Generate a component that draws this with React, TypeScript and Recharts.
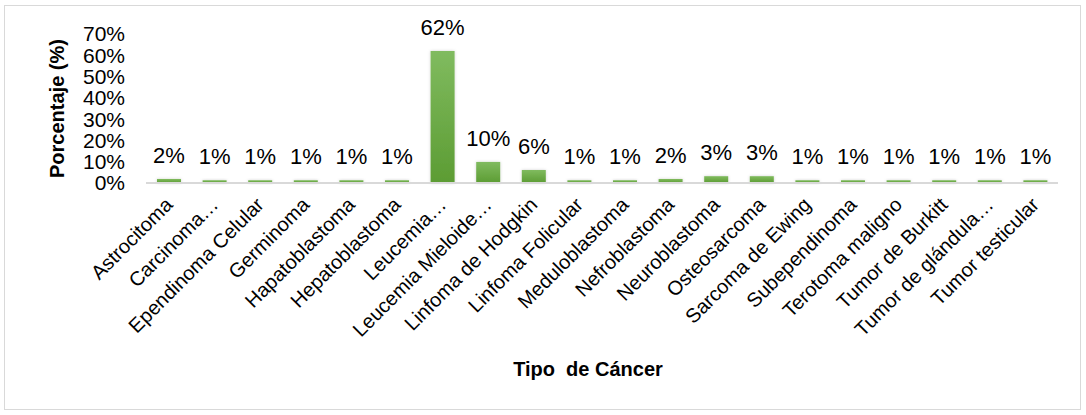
import { BarChart, Bar, XAxis, YAxis, LabelList } from 'recharts';

const categories = [
  'Astrocitoma',
  'Carcinoma…',
  'Ependinoma Celular',
  'Germinoma',
  'Hapatoblastoma',
  'Hepatoblastoma',
  'Leucemia…',
  'Leucemia Mieloide…',
  'Linfoma de Hodgkin',
  'Linfoma Folicular',
  'Meduloblastoma',
  'Nefroblastoma',
  'Neuroblastoma',
  'Osteosarcoma',
  'Sarcoma de Ewing',
  'Subependinoma',
  'Terotoma maligno',
  'Tumor de Burkitt',
  'Tumor de glándula…',
  'Tumor testicular',
];

// labels show the rounded value
const porcentajes = [1.9, 1.3, 1.3, 1.3, 1.3, 1.3, 62, 9.9, 6.1, 1.3, 1.3, 1.9, 3.2, 3.2, 1.3, 1.3, 1.3, 1.3, 1.3, 1.3];

const yTicks = [0, 10, 20, 30, 40, 50, 60, 70];

const data = categories.map((name, i) => ({ name, value: porcentajes[i] }));

const FONT = '"Liberation Sans", Arial, sans-serif';

function CategoryTick({ x, y, payload }: any) {
  return (
    <text
      transform={`translate(${x + 5},${y + 23}) rotate(-45)`}
      textAnchor="end"
      fontSize={20}
      fontFamily={FONT}
      fill="#000"
    >
      {payload.value}
    </text>
  );
}

export default function App() {
  return (
    <div
      style={{
        position: 'absolute',
        left: 4,
        top: 5,
        width: 1077,
        height: 405,
        border: '1px solid #d9d9d9',
        boxSizing: 'border-box',
        background: '#fff',
      }}
    >
      <BarChart
        width={1075}
        height={403}
        data={data}
        margin={{ top: 28, right: 22, bottom: 0, left: 0 }}
      >
        <defs>
          <linearGradient id="barGreen" x1="0" y1="0" x2="0" y2="1">
            <stop offset="0%" stopColor="#80bb5f" />
            <stop offset="100%" stopColor="#5c9c33" />
          </linearGradient>
          <filter id="barShadow" x="-50%" y="-50%" width="200%" height="200%">
            <feDropShadow dx="0" dy="0" stdDeviation="1.5" floodColor="#000" floodOpacity="0.18" />
          </filter>
        </defs>
        <XAxis
          dataKey="name"
          interval={0}
          height={226}
          tickLine={false}
          tickSize={0}
          tickMargin={0}
          axisLine={{ stroke: '#d9d9d9', strokeWidth: 2 }}
          tick={<CategoryTick />}
          label={({ viewBox }: any) => (
            <text
              x={viewBox.x + viewBox.width / 2 - 14}
              y={370}
              textAnchor="middle"
              fontSize={20}
              fontWeight="bold"
              fontFamily={FONT}
              fill="#000"
              style={{ whiteSpace: 'pre' }}
            >
              {'Tipo  de Cáncer'}
            </text>
          )}
        />
        <YAxis
          domain={[0, 70]}
          ticks={yTicks}
          interval={0}
          width={141}
          axisLine={false}
          tickLine={false}
          tickSize={0}
          tickMargin={21}
          tickFormatter={(v: number) => `${v}%`}
          tick={{ fontSize: 21, fontFamily: FONT, fill: '#000' }}
          label={({ viewBox }: any) => (
            <text
              transform={`translate(52,${viewBox.y + viewBox.height / 2}) rotate(-90)`}
              textAnchor="middle"
              dominantBaseline="central"
              fontSize={20}
              fontWeight="bold"
              fontFamily={FONT}
              fill="#000"
            >
              Porcentaje (%)
            </text>
          )}
        />
        <Bar
          dataKey="value"
          barSize={24}
          fill="url(#barGreen)"
          filter="url(#barShadow)"
          isAnimationActive={false}
        >
          <LabelList
            dataKey="value"
            position="top"
            offset={16}
            formatter={(v: any) => `${Math.round(v)}%`}
            style={{ fontSize: 22, fontFamily: FONT, fill: '#000' }}
          />
        </Bar>
      </BarChart>
    </div>
  );
}
